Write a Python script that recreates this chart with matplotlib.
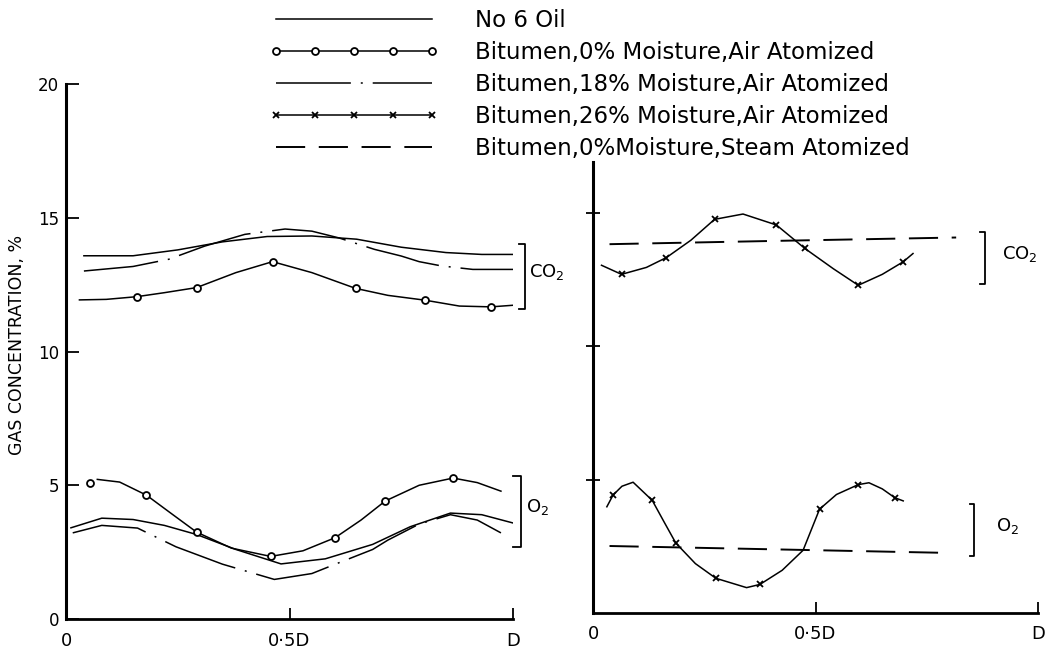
import matplotlib
matplotlib.use('Agg')
import matplotlib.pyplot as plt
from matplotlib.lines import Line2D
from matplotlib.legend_handler import HandlerLine2D

# ---- left panel (fraction of D) ----
no6_co2_x = [0.04, 0.15, 0.25, 0.35, 0.45, 0.55, 0.65, 0.75, 0.85, 0.93, 1.0]
no6_co2_y = [13.58, 13.58, 13.8, 14.1, 14.3, 14.32, 14.2, 13.9, 13.7, 13.63, 13.63]

m18_co2_x = [0.04, 0.15, 0.23, 0.31, 0.40, 0.49, 0.55, 0.61, 0.69, 0.75, 0.79, 0.84, 0.91, 1.0]
m18_co2_y = [13.01, 13.18, 13.45, 13.94, 14.38, 14.58, 14.5, 14.25, 13.82, 13.57, 13.36, 13.2, 13.07, 13.07]

m0_co2_x = [0.03, 0.09, 0.158, 0.22, 0.292, 0.38, 0.462, 0.55, 0.648, 0.72, 0.803, 0.88, 0.951, 1.0]
m0_co2_y = [11.93, 11.95, 12.05, 12.2, 12.39, 12.95, 13.36, 12.95, 12.36, 12.1, 11.92, 11.7, 11.67, 11.73]
m0_co2_pts_x = [0.158, 0.292, 0.462, 0.648, 0.803, 0.951]
m0_co2_pts_y = [12.05, 12.39, 13.36, 12.36, 11.92, 11.67]

m0_o2_x = [0.07, 0.12, 0.18, 0.235, 0.292, 0.37, 0.458, 0.53, 0.602, 0.66, 0.714, 0.79, 0.866, 0.92, 0.973]
m0_o2_y = [5.22, 5.12, 4.63, 3.95, 3.25, 2.65, 2.34, 2.55, 3.04, 3.7, 4.41, 5.0, 5.27, 5.1, 4.78]
m0_o2_pts_x = [0.053, 0.18, 0.292, 0.458, 0.602, 0.714, 0.866]
m0_o2_pts_y = [5.1, 4.63, 3.25, 2.34, 3.04, 4.41, 5.27]

no6_o2_x = [0.011, 0.08, 0.15, 0.22, 0.292, 0.38, 0.481, 0.58, 0.686, 0.77, 0.86, 0.93, 1.0]
no6_o2_y = [3.41, 3.77, 3.72, 3.5, 3.16, 2.6, 2.06, 2.25, 2.79, 3.45, 3.96, 3.9, 3.59]

m18_o2_x = [0.015, 0.08, 0.16, 0.246, 0.35, 0.466, 0.55, 0.61, 0.686, 0.72, 0.79, 0.86, 0.92, 0.973]
m18_o2_y = [3.22, 3.5, 3.4, 2.7, 2.05, 1.48, 1.7, 2.1, 2.6, 2.95, 3.55, 3.9, 3.7, 3.22]

# ---- right panel ----
m26_co2_x = [0.019, 0.064, 0.12, 0.165, 0.22, 0.273, 0.337, 0.412, 0.476, 0.54, 0.596, 0.65, 0.697, 0.719]
m26_co2_y = [13.03, 12.69, 12.95, 13.32, 13.97, 14.75, 14.95, 14.54, 13.66, 12.9, 12.28, 12.69, 13.16, 13.47]
m26_co2_pts_x = [0.064, 0.165, 0.273, 0.412, 0.476, 0.596, 0.697]
m26_co2_pts_y = [12.69, 13.32, 14.75, 14.54, 13.66, 12.28, 13.16]

steam_co2_x = [0.037, 0.43, 0.816]
steam_co2_y = [13.82, 13.95, 14.07]

m26_o2_x = [0.031, 0.045, 0.065, 0.09, 0.133, 0.16, 0.186, 0.23, 0.276, 0.345, 0.375,
            0.425, 0.472, 0.509, 0.547, 0.596, 0.62, 0.65, 0.678, 0.697]
m26_o2_y = [3.98, 4.42, 4.75, 4.9, 4.22, 3.4, 2.62, 1.85, 1.3, 0.95, 1.07,
            1.6, 2.35, 3.89, 4.44, 4.81, 4.88, 4.65, 4.32, 4.2]
m26_o2_pts_x = [0.045, 0.133, 0.186, 0.276, 0.375, 0.509, 0.596, 0.678]
m26_o2_pts_y = [4.42, 4.22, 2.62, 1.3, 1.07, 3.89, 4.81, 4.32]

steam_o2_x = [0.037, 0.42, 0.801]
steam_o2_y = [2.51, 2.38, 2.25]

# bracket ranges (low, high)
left_co2_range = [11.59, 14.02]
left_o2_range = [2.69, 5.35]
right_co2_range = [12.34, 14.29]
right_o2_range = [2.14, 4.09]

labels = ['No 6 Oil',
          'Bitumen,0% Moisture,Air Atomized',
          'Bitumen,18% Moisture,Air Atomized',
          'Bitumen,26% Moisture,Air Atomized',
          'Bitumen,0%Moisture,Steam Atomized']
xtick_labels = ['0', '0·5D', 'D']

lw = 1.1
dashdot = (0, (49, 6.5, 1.3, 6.5))
dashed = (0, (15, 7))

fig = plt.figure(figsize=(10.53, 6.49), dpi=100)
ax1 = fig.add_axes([0.0627, 0.0462, 0.4245, 0.8243])
ax2 = fig.add_axes([0.5632, 0.0555, 0.4226, 0.6949])

# left panel curves
ax1.plot(no6_co2_x, no6_co2_y, color='k', lw=lw)
ax1.plot(m18_co2_x, m18_co2_y, color='k', lw=lw, linestyle=dashdot)
ax1.plot(m0_co2_x, m0_co2_y, color='k', lw=lw)
ax1.plot(m0_co2_pts_x, m0_co2_pts_y, 'o', color='k', mfc='white', ms=5, mew=1.3)
ax1.plot(no6_o2_x, no6_o2_y, color='k', lw=lw)
ax1.plot(m18_o2_x, m18_o2_y, color='k', lw=lw, linestyle=dashdot)
ax1.plot(m0_o2_x, m0_o2_y, color='k', lw=lw)
ax1.plot(m0_o2_pts_x, m0_o2_pts_y, 'o', color='k', mfc='white', ms=5, mew=1.3)

# right panel curves
ax2.plot(m26_co2_x, m26_co2_y, color='k', lw=lw)
ax2.plot(m26_co2_pts_x, m26_co2_pts_y, 'x', color='k', ms=5, mew=1.3)
ax2.plot(steam_co2_x, steam_co2_y, color='k', lw=1.4, linestyle=dashed)
ax2.plot(m26_o2_x, m26_o2_y, color='k', lw=lw)
ax2.plot(m26_o2_pts_x, m26_o2_pts_y, 'x', color='k', ms=5, mew=1.3)
ax2.plot(steam_o2_x, steam_o2_y, color='k', lw=1.4, linestyle=dashed)


def bracket(ax, xb, xs, yr, label, xl):
    ax.plot([xs, xb, xb, xs], [yr[0], yr[0], yr[1], yr[1]], color='k', lw=1.3, clip_on=False)
    ax.text(xl, (yr[0] + yr[1]) / 2 + 0.15, label, fontsize=13, ha='left', va='center')


bracket(ax1, 1.027, 1.013, left_co2_range, 'CO$_2$', 1.036)
bracket(ax1, 1.018, 1.0, left_o2_range, 'O$_2$', 1.029)
bracket(ax2, 0.881, 0.870, right_co2_range, 'CO$_2$', 0.918)
bracket(ax2, 0.856, 0.847, right_o2_range, 'O$_2$', 0.905)

for ax in (ax1, ax2):
    ax.set_xlim(0, 1)
    ax.spines['top'].set_visible(False)
    ax.spines['right'].set_visible(False)
    ax.spines['left'].set_linewidth(2.2)
    ax.spines['bottom'].set_linewidth(2.0)
    ax.set_xticks([0, 0.5, 1])
    ax.set_xticklabels(xtick_labels)
    ax.tick_params(axis='x', direction='in', length=8, width=1.3, pad=9, labelsize=13)

ax1.set_ylim(0, 20)
ax1.set_yticks([0, 5, 10, 15, 20])
ax1.tick_params(axis='y', direction='in', length=9, width=1.3, pad=5, labelsize=12)
ax1.set_ylabel('GAS CONCENTRATION, %', fontsize=12.5)
ax1.yaxis.set_label_coords(-0.09, 0.513)

ax2.set_ylim(0, 16.9)
ax2.set_yticks([5, 10, 15])
ax2.tick_params(axis='y', direction='inout', length=10, width=1.3, labelleft=False)

handles = [
    Line2D([], [], color='k', lw=lw),
    Line2D([], [], color='k', lw=lw, marker='o', mfc='white', ms=5, mew=1.3),
    Line2D([], [], color='k', lw=lw, linestyle=dashdot),
    Line2D([], [], color='k', lw=lw, marker='x', ms=5, mew=1.3),
    Line2D([], [], color='k', lw=1.4, linestyle=dashed),
]
fig.legend(handles, labels, loc='upper left', bbox_to_anchor=(253 / 1053, 1 - 9 / 649),
           frameon=False, fontsize=16.5, handlelength=8.8, handletextpad=0.88,
           labelspacing=0.39, borderpad=0, borderaxespad=0,
           handler_map={Line2D: HandlerLine2D(numpoints=5, marker_pad=1.0)})

plt.savefig('out.png', dpi=100)
